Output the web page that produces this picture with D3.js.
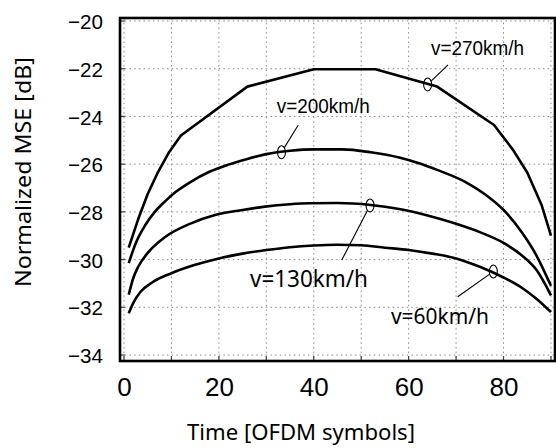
<!DOCTYPE html>
<html><head><meta charset="utf-8">
<script src="https://cdn.jsdelivr.net/npm/d3@7"></script>
<style>html,body{margin:0;padding:0;background:#fff;} svg{display:block}</style>
</head><body><svg id="c" width="556" height="448"></svg>
<script>
// ---- data ----
const xGridTicks = [0, 10, 20, 30, 40, 50, 60, 70, 80, 90];
const xTickLabels = [0, 20, 40, 60, 80];
const yTicks = [-20, -22, -24, -26, -28, -30, -32, -34];

const t270 = [1, 3, 5, 7, 9.5, 12, 26, 40, 53, 66, 78, 82, 85, 88, 90];
const mse270 = [-29.5, -28.3, -27.25, -26.4, -25.5, -24.8, -22.75, -22.02, -22.02, -22.75, -24.36, -25.4, -26.35, -27.7, -29.0];

const t200 = [1, 2.5, 4.5, 6.5, 8.6, 11, 14, 18, 22, 26, 30, 35, 40, 46, 52, 58, 62, 66, 72, 76, 80, 84, 87, 90];
const mse200 = [-30.15, -29.3, -28.55, -28.0, -27.57, -27.15, -26.75, -26.32, -26.02, -25.78, -25.58, -25.44, -25.38, -25.38, -25.5, -25.72, -25.95, -26.24, -26.75, -27.25, -27.92, -28.9, -29.85, -31.1];

const t130 = [1, 2, 3, 5, 8.6, 14, 19.2, 25, 29.7, 35, 39, 45, 52, 58, 64, 70, 75, 80, 84, 87, 90];
const mse130 = [-31.47, -30.75, -30.3, -29.72, -29.06, -28.49, -28.13, -27.92, -27.78, -27.68, -27.64, -27.63, -27.71, -27.88, -28.15, -28.5, -28.85, -29.3, -29.85, -30.45, -31.5];

const t60 = [1, 2, 3.5, 6, 10, 15, 20, 25, 30, 35, 40, 45, 50, 55, 60, 65, 70, 75, 80, 84, 87, 90];
const mse60 = [-32.25, -31.8, -31.35, -30.95, -30.57, -30.22, -29.95, -29.75, -29.6, -29.48, -29.41, -29.38, -29.4, -29.5, -29.6, -29.75, -29.95, -30.3, -30.75, -31.2, -31.65, -32.2];

const seriesNames = ["v=270km/h", "v=200km/h", "v=130km/h", "v=60km/h"];
const seriesT = [t270, t200, t130, t60];
const seriesV = [mse270, mse200, mse130, mse60];

// annotation anchors in data coordinates: marker, leader start, text start
const annMarkerX = [64.0, 33.2, 51.86, 77.85];
const annMarkerY = [-22.66, -25.5, -27.73, -30.5];
const annLeadX = [68.3, 36.74, 45.9, 70.34];
const annLeadY = [-21.84, -24.36, -30.02, -31.56];
const annTextX = [64.71, 32.19, 26.56, 56.28];
const annTextY = [-21.43, -23.86, -31.15, -32.70];

// ---- layout ----
const svg = d3.select("#c");
const x = d3.scaleLinear().domain([-0.84, 90.85]).range([120, 555]);
const y = d3.scaleLinear().domain([-34.25, -19.874]).range([361, 18]);
const [x0, x1] = x.range();
const [y0, y1] = y.range();

// grid
const grid = svg.append("g");
grid.selectAll("line.vg").data(xGridTicks).enter().append("line")
  .attr("x1", d => x(d)).attr("x2", d => x(d)).attr("y1", y1).attr("y2", y0)
  .attr("stroke", "#8a8a8a").attr("stroke-width", 1).attr("stroke-dasharray", "1.5,3.2");
grid.selectAll("line.hg").data(yTicks).enter().append("line")
  .attr("y1", d => y(d)).attr("y2", d => y(d)).attr("x1", x0).attr("x2", x1)
  .attr("stroke", "#8a8a8a").attr("stroke-width", 1).attr("stroke-dasharray", "1.5,3.2");

// inner ticks
grid.selectAll("line.xt").data(xGridTicks).enter().append("line")
  .attr("x1", d => x(d)).attr("x2", d => x(d)).attr("y1", y0).attr("y2", y0 - 5)
  .attr("stroke", "#444").attr("stroke-width", 1.2);
grid.selectAll("line.yt").data(yTicks).enter().append("line")
  .attr("y1", d => y(d)).attr("y2", d => y(d)).attr("x1", x0).attr("x2", x0 + 5)
  .attr("stroke", "#444").attr("stroke-width", 1.2);

// axis labels
const xAxis = svg.append("g").attr("transform", `translate(0,${y0})`)
  .call(d3.axisBottom(x).tickValues(xTickLabels).tickSize(0).tickPadding(17).tickFormat(d3.format("d")));
xAxis.select(".domain").remove();
xAxis.selectAll("text").attr("font-family", "'Liberation Sans', Arial, sans-serif").attr("font-size", 26).attr("fill", "#000");

const yAxis = svg.append("g").attr("transform", `translate(${x0},0)`)
  .call(d3.axisLeft(y).tickValues(yTicks).tickSize(0).tickPadding(17).tickFormat(d3.format("d")));
yAxis.select(".domain").remove();
yAxis.selectAll("text").attr("font-family", "'Liberation Sans Narrow', 'Liberation Sans', Arial, sans-serif")
  .attr("font-size", 21).attr("fill", "#000").attr("textLength", 35).attr("lengthAdjust", "spacingAndGlyphs")
  .attr("dy", "0.36em");

// curves
const line = d3.line().x(d => x(d[0])).y(d => y(d[1])).curve(d3.curveMonotoneX);
const lineLin = d3.line().x(d => x(d[0])).y(d => y(d[1])).curve(d3.curveLinear);
seriesT.forEach((ts, i) => {
  const pts = ts.map((t, j) => [t, seriesV[i][j]]);
  svg.append("path").attr("d", (i === 0 ? lineLin : line)(pts))
    .attr("fill", "none").attr("stroke", "#000").attr("stroke-width", 2.6)
    .attr("stroke-linejoin", "round");
});

// annotations
const rx = 4, ry = 6.5;
const textFonts = ["'Liberation Sans Narrow', 'Liberation Sans', sans-serif", "'Liberation Sans Narrow', 'Liberation Sans', sans-serif", "'Noto Sans', 'Open Sans', sans-serif", "'Noto Sans', 'Open Sans', sans-serif"];
const textSizes = [21, 20, 24, 21];
const textLens = [93, 93, 118, 98];
seriesNames.forEach((name, i) => {
  const cx = x(annMarkerX[i]), cy = y(annMarkerY[i]);
  const sx = x(annLeadX[i]), sy = y(annLeadY[i]);
  const dx = sx - cx, dy = sy - cy;
  const k = 1 / Math.sqrt((dx * dx) / (rx * rx) + (dy * dy) / (ry * ry));
  svg.append("line").attr("x1", sx).attr("y1", sy).attr("x2", cx + dx * k).attr("y2", cy + dy * k)
    .attr("stroke", "#000").attr("stroke-width", 1.1);
  svg.append("ellipse").attr("cx", cx).attr("cy", cy).attr("rx", rx).attr("ry", ry)
    .attr("fill", "none").attr("stroke", "#000").attr("stroke-width", 1.1);
  svg.append("text").attr("x", x(annTextX[i])).attr("y", y(annTextY[i]))
    .attr("font-family", textFonts[i]).attr("font-size", textSizes[i])
    .attr("textLength", textLens[i]).attr("lengthAdjust", "spacingAndGlyphs")
    .attr("fill", "#000").text(name);
});

// frame
svg.append("rect").attr("x", x0).attr("y", y1).attr("width", x1 - x0).attr("height", y0 - y1)
  .attr("fill", "none").attr("stroke", "#000").attr("stroke-width", 2.6);

// titles
svg.append("text").attr("x", 187).attr("y", 440)
  .attr("font-family", "'Noto Sans', 'Open Sans', sans-serif").attr("font-size", 22)
  .attr("textLength", 228).attr("lengthAdjust", "spacingAndGlyphs").attr("fill", "#000")
  .text("Time [OFDM symbols]");
svg.append("text").attr("transform", "translate(31,287) rotate(-90)")
  .attr("font-family", "'Noto Sans', 'Open Sans', sans-serif").attr("font-size", 22)
  .attr("textLength", 230).attr("lengthAdjust", "spacingAndGlyphs").attr("fill", "#000")
  .text("Normalized MSE [dB]");
</script></body></html>
